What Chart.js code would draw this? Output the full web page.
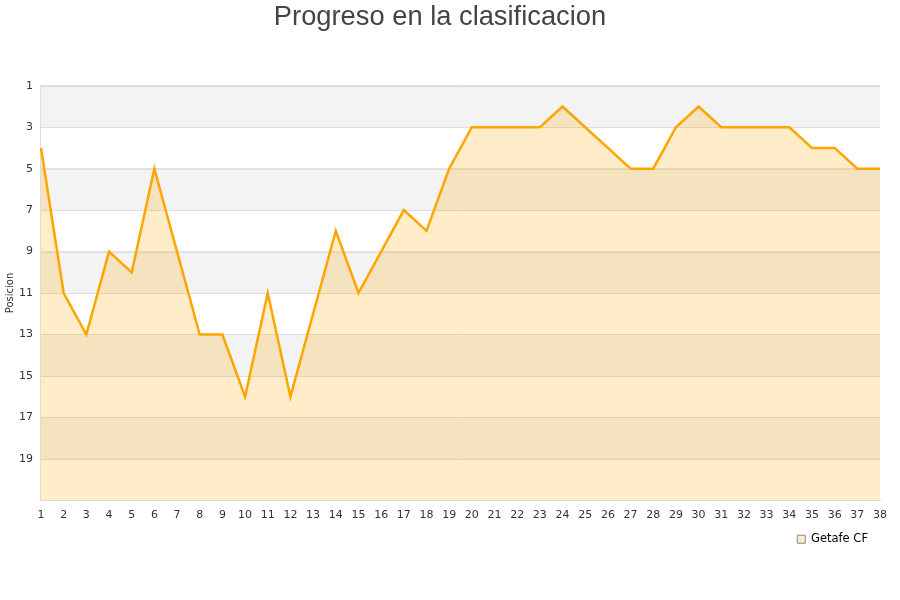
<!DOCTYPE html>
<html>
<head>
<meta charset="utf-8">
<script src="https://cdn.jsdelivr.net/npm/chart.js@4/dist/chart.umd.min.js"></script>
<style>
    body { margin: 0; background: #fff; }
    #wrap { width: 900px; height: 600px; }
</style>
</head>
<body>
<div id="wrap"><canvas id="posChart" width="900" height="600"></canvas></div>
<script>
// Jornadas and positions
const jornadas = ['1','2','3','4','5','6','7','8','9','10','11','12','13','14','15','16','17','18','19','20',
                  '21','22','23','24','25','26','27','28','29','30','31','32','33','34','35','36','37','38'];
const posiciones = [4, 11, 13, 9, 10, 5, 9, 13, 13, 16, 11, 16, 12, 8, 11, 9, 7, 8, 5, 3,
                    3, 3, 3, 2, 3, 4, 5, 5, 3, 2, 3, 3, 3, 3, 4, 4, 5, 5];
const equipo = 'Getafe CF';
const bandas = [[1, 3], [5, 7], [9, 11], [13, 15], [17, 19]];

// Gray bands behind the line
const bandPlugin = {
    id: 'bands',
    beforeDatasetsDraw(chart) {
        const ctx = chart.ctx;
        const area = chart.chartArea;
        const y = chart.scales.y;
        ctx.save();
        ctx.fillStyle = '#f3f3f3';
        bandas.forEach(b => {
            const y1 = y.getPixelForValue(b[0]);
            const y2 = y.getPixelForValue(b[1]);
            ctx.fillRect(area.left, y1, area.right - area.left, y2 - y1);
        });
        // redraw the grid lines over the bands
        ctx.strokeStyle = '#dddddd';
        ctx.lineWidth = 1;
        for (let v = 1; v <= 21; v += 2) {
            const py = Math.round(y.getPixelForValue(v)) + 0.5;
            ctx.beginPath();
            ctx.moveTo(area.left, py);
            ctx.lineTo(area.right, py);
            ctx.stroke();
        }
        ctx.restore();
    }
};

var ctx = document.getElementById('posChart').getContext('2d');
var chart = new Chart(ctx, {
    type: 'line',
    data: {
        labels: jornadas,
        datasets: [{
            label: equipo,
            data: posiciones,
            borderColor: '#ffa500',
            backgroundColor: 'rgba(255, 165, 0, 0.21)',
            borderWidth: 2.5,
            pointRadius: 0,
            tension: 0,
            fill: { value: 21 }
        }]
    },
    options: {
        responsive: false,
        animation: false,
        layout: {
            padding: { left: 0, right: 20, top: 0, bottom: 45 }
        },
        plugins: {
            title: {
                display: true,
                text: 'Progreso en la clasificacion',
                color: '#444',
                font: { family: 'Liberation Sans', size: 27.3, weight: 'normal' },
                padding: { top: 1, bottom: 52 }
            },
            legend: {
                position: 'bottom',
                align: 'end',
                labels: {
                    font: { family: 'DejaVu Sans', size: 11.5 },
                    color: '#000',
                    boxWidth: 8,
                    boxHeight: 8,
                    padding: 12,
                    generateLabels: function(c) {
                        return [{
                            text: equipo,
                            fillStyle: 'rgba(255, 165, 0, 0.21)',
                            strokeStyle: '#888',
                            lineWidth: 1,
                            datasetIndex: 0
                        }];
                    }
                }
            },
            tooltip: { enabled: false }
        },
        scales: {
            y: {
                reverse: true,
                min: 1,
                max: 21,
                title: {
                    display: true,
                    text: 'Posicion',
                    color: '#333',
                    font: { family: 'DejaVu Sans', size: 10 },
                    padding: { top: 4, bottom: -5 }
                },
                ticks: {
                    stepSize: 2,
                    color: '#333',
                    font: { family: 'DejaVu Sans', size: 11 },
                    padding: 8,
                    callback: function(value) {
                        return value === 21 ? '' : value;
                    }
                },
                grid: { color: '#dddddd', drawTicks: false },
                border: { color: '#dddddd' }
            },
            x: {
                offset: false,
                ticks: {
                    color: '#333',
                    font: { family: 'DejaVu Sans', size: 11 },
                    maxRotation: 0,
                    autoSkip: false,
                    padding: 0
                },
                grid: { display: false },
                border: { color: '#dddddd' }
            }
        }
    },
    plugins: [bandPlugin]
});
</script>
</body>
</html>
